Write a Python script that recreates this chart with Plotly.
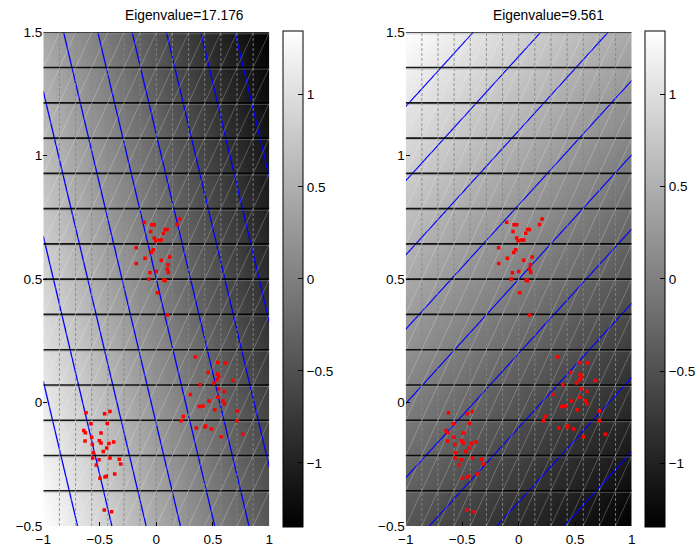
import numpy as np
import plotly.graph_objects as go

# ---------------- data ----------------
titles = ["Eigenvalue=17.176", "Eigenvalue=9.561"]
# unit principal directions (from contour orientation / shading) and projection centre
pc_dirs = [[-0.888, -0.459], [-0.450, 0.893]]
pc_center = [0.0, 0.5]

pts_x = [
    -0.106, -0.041, -0.018, 0.207, 0.183, -0.050, 0.077, 0.095, 0.062, -0.018,
    -0.005, 0.027, 0.044, -0.177, -0.027, -0.044, -0.100, 0.119, 0.044, -0.177,
    0.104, 0.097, -0.056, 0.000, 0.106, -0.067, 0.066, 0.077, 0.009, 0.095,
    0.345, 0.543, 0.611, 0.460, 0.543, 0.552, 0.537, 0.676, 0.511, 0.389,
    0.552, 0.602, 0.301, 0.540, 0.590, 0.466, 0.602, 0.381, 0.413, 0.517,
    0.714, 0.239, 0.219, 0.712, 0.354, 0.428, 0.437, 0.487, 0.573, 0.765,
    -0.622, -0.457, -0.410, -0.578, -0.434, -0.642, -0.628, -0.489, -0.572, -0.631,
    -0.504, -0.489, -0.377, -0.419, -0.566, -0.439, -0.469, -0.558, -0.563, -0.507,
    -0.410, -0.327, -0.531, -0.315, -0.368, -0.498, -0.454, -0.442, -0.460, -0.395,
]
pts_y = [
    0.731, 0.720, 0.720, 0.744, 0.721, 0.693, 0.701, 0.701, 0.686, 0.667,
    0.656, 0.659, 0.659, 0.627, 0.619, 0.608, 0.585, 0.590, 0.577, 0.563,
    0.558, 0.540, 0.526, 0.531, 0.527, 0.501, 0.497, 0.494, 0.445, 0.355,
    0.185, 0.162, 0.160, 0.122, 0.115, 0.106, 0.092, 0.089, 0.079, 0.072,
    0.055, 0.045, 0.033, 0.022, 0.007, 0.006, -0.006, -0.016, -0.014, -0.029,
    -0.034, -0.056, -0.074, -0.074, -0.103, -0.099, -0.095, -0.107, -0.138, -0.128,
    -0.041, -0.045, -0.036, -0.086, -0.085, -0.113, -0.122, -0.123, -0.140, -0.156,
    -0.155, -0.164, -0.160, -0.166, -0.170, -0.184, -0.198, -0.203, -0.225, -0.232,
    -0.225, -0.230, -0.253, -0.249, -0.289, -0.307, -0.302, -0.298, -0.435, -0.442,
]

x_range = [-1.0, 1.0]
y_range = [-0.5, 1.5]
x_ticks = [-1, -0.5, 0, 0.5, 1]
y_ticks = [-0.5, 0, 0.5, 1, 1.5]
cbar_ticks = [-1, -0.5, 0, 0.5, 1]
n_levels = 9          # number of contour lines
mesh_nodes = 15       # surface mesh nodes per side (seams visible in the picture)

# ---------------- layout geometry (pixels) ----------------
W, H = 697, 550
ax_px = [(43.3, 269.3), (405.7, 631.7)]
ay_px = (32.3, 526.0)
cb_px = [282.7, 645.0]
cb_y_px = (31.0, 526.7)
FONT = "Liberation Sans, Arial, Helvetica, sans-serif"

fig = go.Figure()

xf = np.linspace(x_range[0], x_range[1], 241)
yf = np.linspace(y_range[0], y_range[1], 241)
XF, YF = np.meshgrid(xf, yf)

xm = np.linspace(x_range[0], x_range[1], mesh_nodes)
ym = np.linspace(y_range[0], y_range[1], mesh_nodes)

gray = [[0.0, "rgb(0,0,0)"], [1.0, "rgb(255,255,255)"]]
px_per_y = (ay_px[1] - ay_px[0]) / (y_range[1] - y_range[0])

for k in range(2):
    xa = "x" if k == 0 else "x2"
    ya = "y" if k == 0 else "y2"
    w = pc_dirs[k]
    Z = w[0] * (XF - pc_center[0]) + w[1] * (YF - pc_center[1])
    zmin, zmax = float(Z.min()), float(Z.max())
    d = (zmax - zmin) / (n_levels + 1)

    fig.add_trace(go.Heatmap(
        x=xf, y=yf, z=Z, zsmooth="best", colorscale=gray, zmin=zmin, zmax=zmax,
        xaxis=xa, yaxis=ya, hoverinfo="skip",
        colorbar=dict(
            x=cb_px[k] / W, xanchor="left", xpad=0, ypad=0,
            thickness=20, thicknessmode="pixels",
            len=(cb_y_px[1] - cb_y_px[0]) / H, lenmode="fraction",
            y=1 - (cb_y_px[0] + cb_y_px[1]) / 2 / H, yanchor="middle",
            outlinewidth=1, outlinecolor="black",
            ticks="inside", ticklen=5, tickcolor="black", tickwidth=1,
            tickvals=cbar_ticks, tickfont=dict(family=FONT, size=13.5, color="black"),
        ),
    ))

    # mesh seams of the rendered surface
    hx, hy, lx, ly = [], [], [], []
    off = 1.5 / px_per_y
    for yv in ym[1:]:
        hx += [x_range[0], x_range[1], None]
        hy += [yv, yv, None]
        lx += [x_range[0], x_range[1], None]
        ly += [yv - off, yv - off, None]
    vx, vy = [], []
    for xv in xm[1:-1]:
        vx += [xv, xv, None]
        vy += [y_range[0], y_range[1], None]
    dx_, dy_ = [], []
    n = mesh_nodes
    for s in range(-(n - 2), n - 1):
        seg = [(xm[j + s], ym[j]) for j in range(n) if 0 <= j + s < n]
        if len(seg) >= 2:
            dx_ += [p[0] for p in seg] + [None]
            dy_ += [p[1] for p in seg] + [None]

    fig.add_trace(go.Scatter(x=lx, y=ly, mode="lines", xaxis=xa, yaxis=ya,
                             line=dict(color="rgba(150,150,150,0.45)", width=1),
                             hoverinfo="skip", showlegend=False))
    fig.add_trace(go.Scatter(x=hx, y=hy, mode="lines", xaxis=xa, yaxis=ya,
                             line=dict(color="rgba(0,0,0,0.9)", width=1.6),
                             hoverinfo="skip", showlegend=False))
    fig.add_trace(go.Scatter(x=vx, y=vy, mode="lines", xaxis=xa, yaxis=ya,
                             line=dict(color="rgba(135,135,135,0.85)", width=1, dash="3px,2px"),
                             hoverinfo="skip", showlegend=False))
    fig.add_trace(go.Scatter(x=dx_, y=dy_, mode="lines", xaxis=xa, yaxis=ya,
                             line=dict(color="rgba(255,255,255,0.3)", width=0.8),
                             hoverinfo="skip", showlegend=False))

    fig.add_trace(go.Contour(
        x=xf, y=yf, z=Z, xaxis=xa, yaxis=ya, showscale=False,
        contours=dict(coloring="lines", start=zmin + d, end=zmax - 0.99 * d, size=d),
        line=dict(color="rgb(0,0,255)", width=1.3 if k == 0 else 1.15),
        colorscale=[[0, "rgb(0,0,255)"], [1, "rgb(0,0,255)"]],
        hoverinfo="skip",
    ))

    fig.add_trace(go.Scatter(
        x=pts_x, y=pts_y, mode="markers", xaxis=xa, yaxis=ya,
        marker=dict(symbol="square", size=3.5, color="rgb(255,0,0)", line=dict(width=0)),
        hoverinfo="skip", showlegend=False,
    ))

axis_common = dict(showgrid=False, zeroline=False, showline=False, automargin=False,
                   ticks="inside", ticklen=4, tickcolor="black", tickwidth=1,
                   tickfont=dict(family=FONT, size=13.5, color="black"),
                   layer="above traces")

fig.update_layout(
    width=W, height=H, margin=dict(l=0, r=0, t=0, b=0, autoexpand=False),
    paper_bgcolor="white", plot_bgcolor="white", showlegend=False,
    font=dict(family=FONT, size=13.5, color="black"),
    xaxis=dict(domain=[ax_px[0][0] / W, ax_px[0][1] / W], range=x_range, tickvals=x_ticks,
               anchor="y", ticklabelstandoff=3, **axis_common),
    yaxis=dict(domain=[1 - ay_px[1] / H, 1 - ay_px[0] / H], range=y_range, tickvals=y_ticks,
               anchor="x", ticklabelstandoff=0, **axis_common),
    xaxis2=dict(domain=[ax_px[1][0] / W, ax_px[1][1] / W], range=x_range, tickvals=x_ticks,
                anchor="y2", ticklabelstandoff=3, **axis_common),
    yaxis2=dict(domain=[1 - ay_px[1] / H, 1 - ay_px[0] / H], range=y_range, tickvals=y_ticks,
                anchor="x2", ticklabelstandoff=0, **axis_common),
    annotations=[
        dict(text=titles[0], x=184.3 / W, y=1 - 16 / H, xref="paper", yref="paper",
             xanchor="center", yanchor="middle", showarrow=False,
             font=dict(family=FONT, size=13.8, color="black")),
        dict(text=titles[1], x=548.8 / W, y=1 - 16 / H, xref="paper", yref="paper",
             xanchor="center", yanchor="middle", showarrow=False,
             font=dict(family=FONT, size=13.8, color="black")),
    ],
)

fig.write_html("out.html")
